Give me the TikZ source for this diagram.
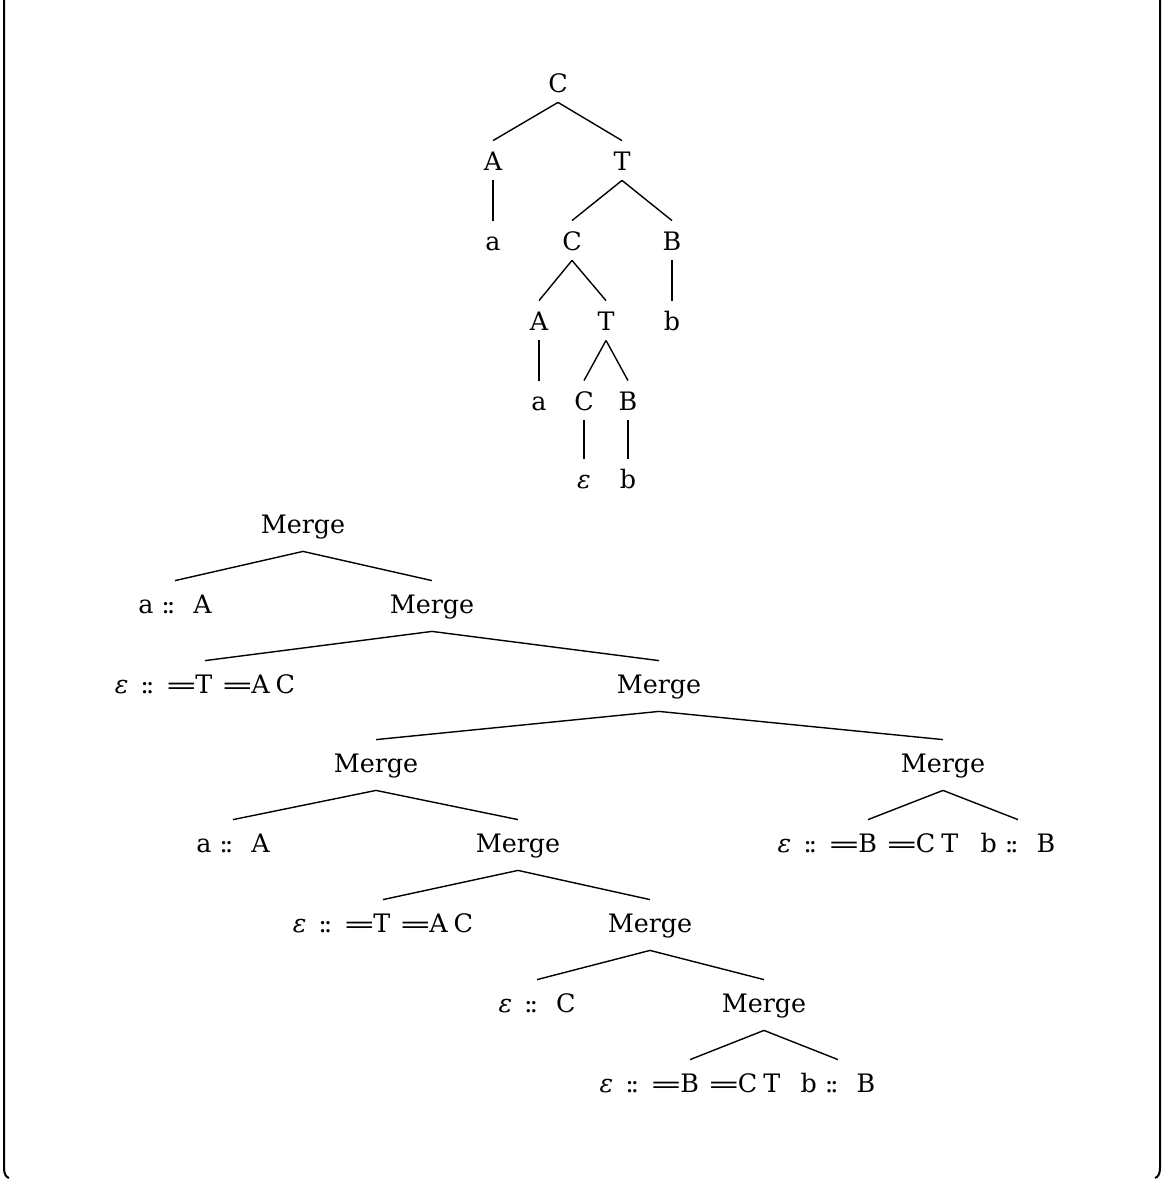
\documentclass[tikz,border=0pt]{standalone}
\usepackage{graphicx}
\usepackage{fontspec}
\setmainfont{DejaVu Serif}
\newcommand\dc{:\kern-1.6pt:}
\newcommand\eq{\kern-1pt\scalebox{1.6}[0.9]{=}\kern-1.5pt}
\newcommand\ep{\textit{ε}}
\begin{document}
\begin{tikzpicture}[x=0.5pt,y=-0.5pt,
  font=\fontsize{12.7}{15}\selectfont,
  tn/.style={anchor=base, inner sep=0pt, text height=14.5pt, text depth=5pt},
  bn/.style={anchor=base, inner sep=0pt, text height=16pt, text depth=9pt},
  edge/.style={line width=0.7pt},
  frame/.style={line width=1pt}]
\useasboundingbox (0,0) rectangle (1162,1179);
% frame
\coordinate (l0) at (4,-5);
\coordinate (l1) at (4,1168);
\coordinate (l2) at (9,1178);
\coordinate (r0) at (1160,-5);
\coordinate (r1) at (1160,1168);
\coordinate (r2) at (1155,1178);
\draw[frame] (l0) -- (l1) .. controls (4,1174) and (6,1177) .. (l2);
\draw[frame] (r0) -- (r1) .. controls (1160,1174) and (1158,1177) .. (r2);
% top tree
\node[tn] (C1) at (558,92) {C};
\node[tn] (A1) at (493,170) {A};
\node[tn] (T1) at (622,170) {T};
\node[tn] (a1) at (493,250) {a};
\node[tn] (C2) at (572,250) {C};
\node[tn] (B1) at (672,250) {B};
\node[tn] (A2) at (539,330) {A};
\node[tn] (T2) at (606,330) {T};
\node[tn] (b1) at (672,330) {b};
\node[tn] (a2) at (539,410) {a};
\node[tn] (C3) at (584,410) {C};
\node[tn] (B2) at (628,410) {B};
\node[tn] (e1) at (584,488) {\ep};
\node[tn] (b2) at (628,488) {b};
\draw[edge] (C1.south) -- (A1.north);
\draw[edge] (C1.south) -- (T1.north);
\draw[edge] (A1.south) -- (a1.north);
\draw[edge] (T1.south) -- (C2.north);
\draw[edge] (T1.south) -- (B1.north);
\draw[edge] (C2.south) -- (A2.north);
\draw[edge] (C2.south) -- (T2.north);
\draw[edge] (B1.south) -- (b1.north);
\draw[edge] (A2.south) -- (a2.north);
\draw[edge] (T2.south) -- (C3.north);
\draw[edge] (T2.south) -- (B2.north);
\draw[edge] (C3.south) -- (e1.north);
\draw[edge] (B2.south) -- (b2.north);
% bottom tree
\node[bn] (M1) at (303,533) {Merge};
\node[bn] (aA1) at (175,613) {a\hspace{4pt}\dc\hspace{9pt}A};
\node[bn] (M2) at (432,613) {Merge};
\node[bn] (eTAC1) at (205,693) {\ep\hspace{6pt}\dc\hspace{6pt}\eq T\hspace{5pt}\eq A\hspace{3pt}C};
\node[bn] (M3) at (659,693) {Merge};
\node[bn] (M4) at (376,772) {Merge};
\node[bn] (M5) at (943,772) {Merge};
\node[bn] (aA2) at (233,852) {a\hspace{4pt}\dc\hspace{9pt}A};
\node[bn] (M6) at (518,852) {Merge};
\node[bn] (eBCT1) at (868,852) {\ep\hspace{6pt}\dc\hspace{6pt}\eq B\hspace{5pt}\eq C\hspace{3pt}T};
\node[bn] (bB1) at (1018,852) {b\hspace{4pt}\dc\hspace{9pt}B};
\node[bn] (eTAC2) at (383,932) {\ep\hspace{6pt}\dc\hspace{6pt}\eq T\hspace{5pt}\eq A\hspace{3pt}C};
\node[bn] (M7) at (650,932) {Merge};
\node[bn] (eC) at (537,1012) {\ep\hspace{6pt}\dc\hspace{9pt}C};
\node[bn] (M8) at (764,1012) {Merge};
\node[bn] (eBCT2) at (690,1092) {\ep\hspace{6pt}\dc\hspace{6pt}\eq B\hspace{5pt}\eq C\hspace{3pt}T};
\node[bn] (bB2) at (838,1092) {b\hspace{4pt}\dc\hspace{9pt}B};
\draw[edge] (M1.south) -- (aA1.north);
\draw[edge] (M1.south) -- (M2.north);
\draw[edge] (M2.south) -- (eTAC1.north);
\draw[edge] (M2.south) -- (M3.north);
\draw[edge] (M3.south) -- (M4.north);
\draw[edge] (M3.south) -- (M5.north);
\draw[edge] (M4.south) -- (aA2.north);
\draw[edge] (M4.south) -- (M6.north);
\draw[edge] (M5.south) -- (eBCT1.north);
\draw[edge] (M5.south) -- (bB1.north);
\draw[edge] (M6.south) -- (eTAC2.north);
\draw[edge] (M6.south) -- (M7.north);
\draw[edge] (M7.south) -- (eC.north);
\draw[edge] (M7.south) -- (M8.north);
\draw[edge] (M8.south) -- (eBCT2.north);
\draw[edge] (M8.south) -- (bB2.north);
\end{tikzpicture}
\end{document}
